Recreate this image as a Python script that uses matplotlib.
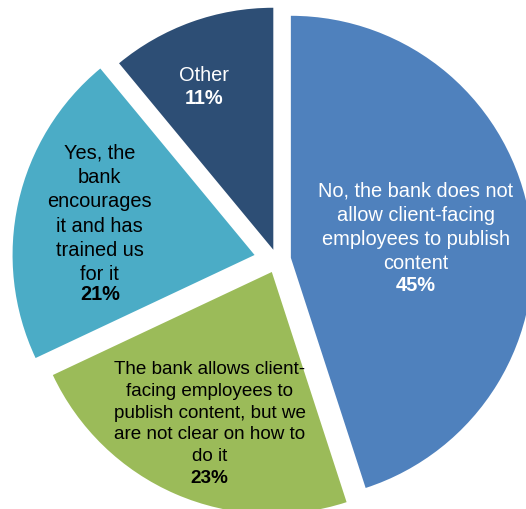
import matplotlib
matplotlib.use("Agg")
import matplotlib.pyplot as plt
import numpy as np

plt.rcParams['font.family'] = ['Liberation Sans', 'DejaVu Sans']

answers = [
    "No, the bank does not\nallow client-facing\nemployees to publish\ncontent",
    "The bank allows client-\nfacing employees to\npublish content, but we\nare not clear on how to\ndo it",
    "Yes, the\nbank\nencourages\nit and has\ntrained us\nfor it",
    "Other",
]
shares = [45, 23, 21, 11]
colors = ['#4F81BD', '#9BBB59', '#4BACC6', '#2D4E75']
text_colors = ['white', 'black', 'black', 'white']

explode = [0.058, 0.054, 0.095, 0.045]
label_r = [0.58, 0.72, 0.75, 0.79]
label_nudge = [(0, 0), (2, -3), (0, -4), (-8, -6)]  # pixels
font_sizes = [14.4, 13.6, 14.4, 14.4]

fig = plt.figure(figsize=(5.26, 5.10), dpi=100)
ax = fig.add_axes([0, 0, 1, 1])

wedges, _ = ax.pie(shares, colors=colors, explode=explode, startangle=90,
                   counterclock=False, radius=1.0,
                   wedgeprops=dict(linewidth=0))

# pie radius is 242 px, centre at (277, 261) from the top-left
scale = 242.0
ax.set_xlim(-277 / scale, (526 - 277) / scale)
ax.set_ylim(-(510 - 261) / scale, 261 / scale)
ax.set_aspect('equal')
ax.axis('off')

for w, desc, val, tc, r, (nx, ny), fs in zip(wedges, answers, shares, text_colors,
                                             label_r, label_nudge, font_sizes):
    mid = np.deg2rad((w.theta1 + w.theta2) / 2)
    pos = (r * np.cos(mid), r * np.sin(mid))
    n = desc.count('\n') + 1
    line_h = fs * 1.6  # pixels between baselines
    ax.annotate(desc, xy=pos, xytext=(nx, ny + line_h / 2),
                textcoords='offset pixels', ha='center', va='center',
                fontsize=fs, color=tc, linespacing=1.35)
    ax.annotate(f"{val}%", xy=pos, xytext=(nx, ny - n * line_h / 2),
                textcoords='offset pixels', ha='center', va='center',
                fontsize=fs, fontweight='bold', color=tc)

fig.savefig('out.png', dpi=100)
